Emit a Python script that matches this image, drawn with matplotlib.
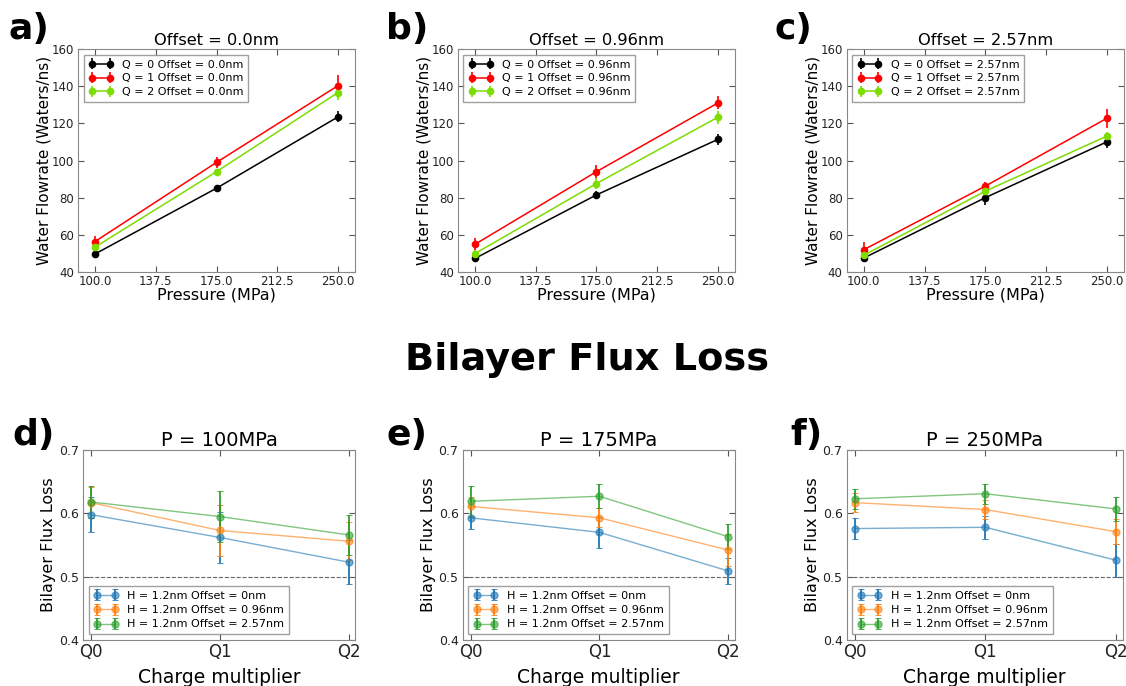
import matplotlib
matplotlib.use("Agg")
import matplotlib.pyplot as plt

# top row: water flowrate vs pressure
pressure = [100.0, 175.0, 250.0]
offsets_top = ["0.0", "0.96", "2.57"]
flow = {
    "0.0": [[49.7, 85.1, 123.5], [56.4, 99.0, 140.3], [53.4, 94.0, 136.6]],
    "0.96": [[47.3, 81.5, 111.4], [54.9, 94.0, 131.0], [49.9, 87.6, 123.3]],
    "2.57": [[47.5, 80.0, 110.0], [52.0, 86.2, 122.7], [49.0, 83.5, 113.1]],
}
flow_err = {
    "0.0": [[2.0, 1.0, 3.0], [3.0, 3.0, 6.0], [2.0, 1.5, 4.0]],
    "0.96": [[2.0, 2.0, 3.0], [3.5, 3.5, 3.5], [2.0, 3.0, 3.5]],
    "2.57": [[2.0, 4.0, 3.5], [4.0, 2.0, 5.0], [2.0, 2.0, 2.0]],
}
q_labels = ["Q = 0", "Q = 1", "Q = 2"]
top_colors = ["black", "red", "#7ddc00"]

# bottom row: bilayer flux loss vs charge multiplier
charges = ["Q0", "Q1", "Q2"]
pressures_bot = ["100", "175", "250"]
offsets_bot = ["0", "0.96", "2.57"]
loss = {
    "100": [[0.598, 0.562, 0.523], [0.617, 0.573, 0.556], [0.618, 0.595, 0.566]],
    "175": [[0.593, 0.570, 0.509], [0.611, 0.593, 0.542], [0.619, 0.627, 0.563]],
    "250": [[0.576, 0.578, 0.526], [0.617, 0.606, 0.571], [0.623, 0.631, 0.607]],
}
loss_err = {
    "100": [[0.028, 0.040, 0.035], [0.025, 0.040, 0.030], [0.025, 0.040, 0.032]],
    "175": [[0.018, 0.024, 0.021], [0.015, 0.015, 0.025], [0.024, 0.019, 0.020]],
    "250": [[0.017, 0.018, 0.026], [0.015, 0.015, 0.020], [0.016, 0.016, 0.019]],
}
bot_colors = ["#1f77b4", "#ff7f0e", "#2ca02c"]

plt.rcParams["font.family"] = "DejaVu Sans"
plt.rcParams["legend.numpoints"] = 2

fig = plt.figure(figsize=(11.26, 6.86), dpi=100)

spine_grey = "#888888"


def style_axes(ax):
    for s in ax.spines.values():
        s.set_color(spine_grey)
    ax.tick_params(direction="in", top=True, right=True, color="#555555",
                   labelcolor="#222222", length=4, pad=3)


top_lefts = [0.0693, 0.4067, 0.752]
panel_top = ["a)", "b)", "c)"]
panel_top_x = [8, 386, 775]
for i, off in enumerate(offsets_top):
    ax = fig.add_axes([top_lefts[i], 0.6035, 0.246, 0.325])
    for j in range(3):
        ax.errorbar(pressure, flow[off][j], yerr=flow_err[off][j],
                    color=top_colors[j], marker="o", markersize=4.5,
                    markeredgecolor=top_colors[j], linewidth=1.1,
                    elinewidth=1.2, capsize=0,
                    label=f"{q_labels[j]} Offset = {off}nm")
    ax.set_xlim(89.5, 260.5)
    ax.set_ylim(40, 160)
    ax.set_xticks([100.0, 137.5, 175.0, 212.5, 250.0])
    ax.set_xticklabels(["100.0", "137.5", "175.0", "212.5", "250.0"])
    ax.set_yticks(range(40, 161, 20))
    style_axes(ax)
    ax.tick_params(labelsize=8.5)
    ax.tick_params(axis="x", pad=2)
    ax.set_xlabel("Pressure (MPa)", fontsize=11.5, labelpad=0)
    ax.set_ylabel("Water Flowrate (Waters/ns)", fontsize=11, labelpad=0)
    ax.set_title(f"Offset = {off}nm", fontsize=11.7, pad=3)
    leg = ax.legend(loc="upper left", fontsize=8, fancybox=False,
                    handlelength=2.2, borderpad=0.45, labelspacing=0.35)
    leg.get_frame().set_edgecolor(spine_grey)
    fig.text(panel_top_x[i] / 1126, 1 - 29 / 686, panel_top[i],
             fontsize=26, fontweight="bold", va="center", ha="left")

fig.text(0.521, 1 - 360 / 686, "Bilayer Flux Loss", fontsize=27.5,
         fontweight="bold", ha="center", va="center")

bot_lefts = [0.0737, 0.411, 0.752]
bot_widths = [0.2416, 0.2416, 0.245]
panel_bot = ["d)", "e)", "f)"]
panel_bot_x = [12, 387, 790]
for i, p in enumerate(pressures_bot):
    ax = fig.add_axes([bot_lefts[i], 0.067, bot_widths[i], 0.277])
    xs = list(range(len(charges)))
    for j in range(3):
        ax.errorbar(xs, loss[p][j], yerr=loss_err[p][j], color=bot_colors[j],
                    marker="o", markersize=5, linewidth=1.0, elinewidth=1.3,
                    capsize=2, capthick=0.6,
                    label=f"H = 1.2nm Offset = {offsets_bot[j]}nm")
    # connecting lines lighter than the markers
    for c in ax.containers:
        c.lines[0].set_alpha(0.6)
    ax.axhline(0.5, color="#666666", linestyle="--", linewidth=0.8)
    ax.set_xlim(-0.06, 2.05)
    ax.set_ylim(0.4, 0.7)
    ax.set_xticks(xs)
    ax.set_xticklabels(charges)
    ax.set_yticks([0.4, 0.5, 0.6, 0.7])
    style_axes(ax)
    ax.tick_params(axis="x", labelsize=12, pad=2)
    ax.tick_params(axis="y", labelsize=9)
    ax.set_xlabel("Charge multiplier", fontsize=13.5, labelpad=5)
    ax.set_ylabel("Bilayer Flux Loss", fontsize=11.5, labelpad=2)
    ax.set_title(f"P = {p}MPa", fontsize=14, pad=3)
    leg = ax.legend(loc="lower left", fontsize=8, fancybox=False,
                    handlelength=2.2, borderpad=0.45, labelspacing=0.4)
    leg.get_frame().set_edgecolor(spine_grey)
    fig.text(panel_bot_x[i] / 1126, 1 - 435 / 686, panel_bot[i],
             fontsize=26, fontweight="bold", va="center", ha="left")

fig.savefig("out.png", dpi=100)
